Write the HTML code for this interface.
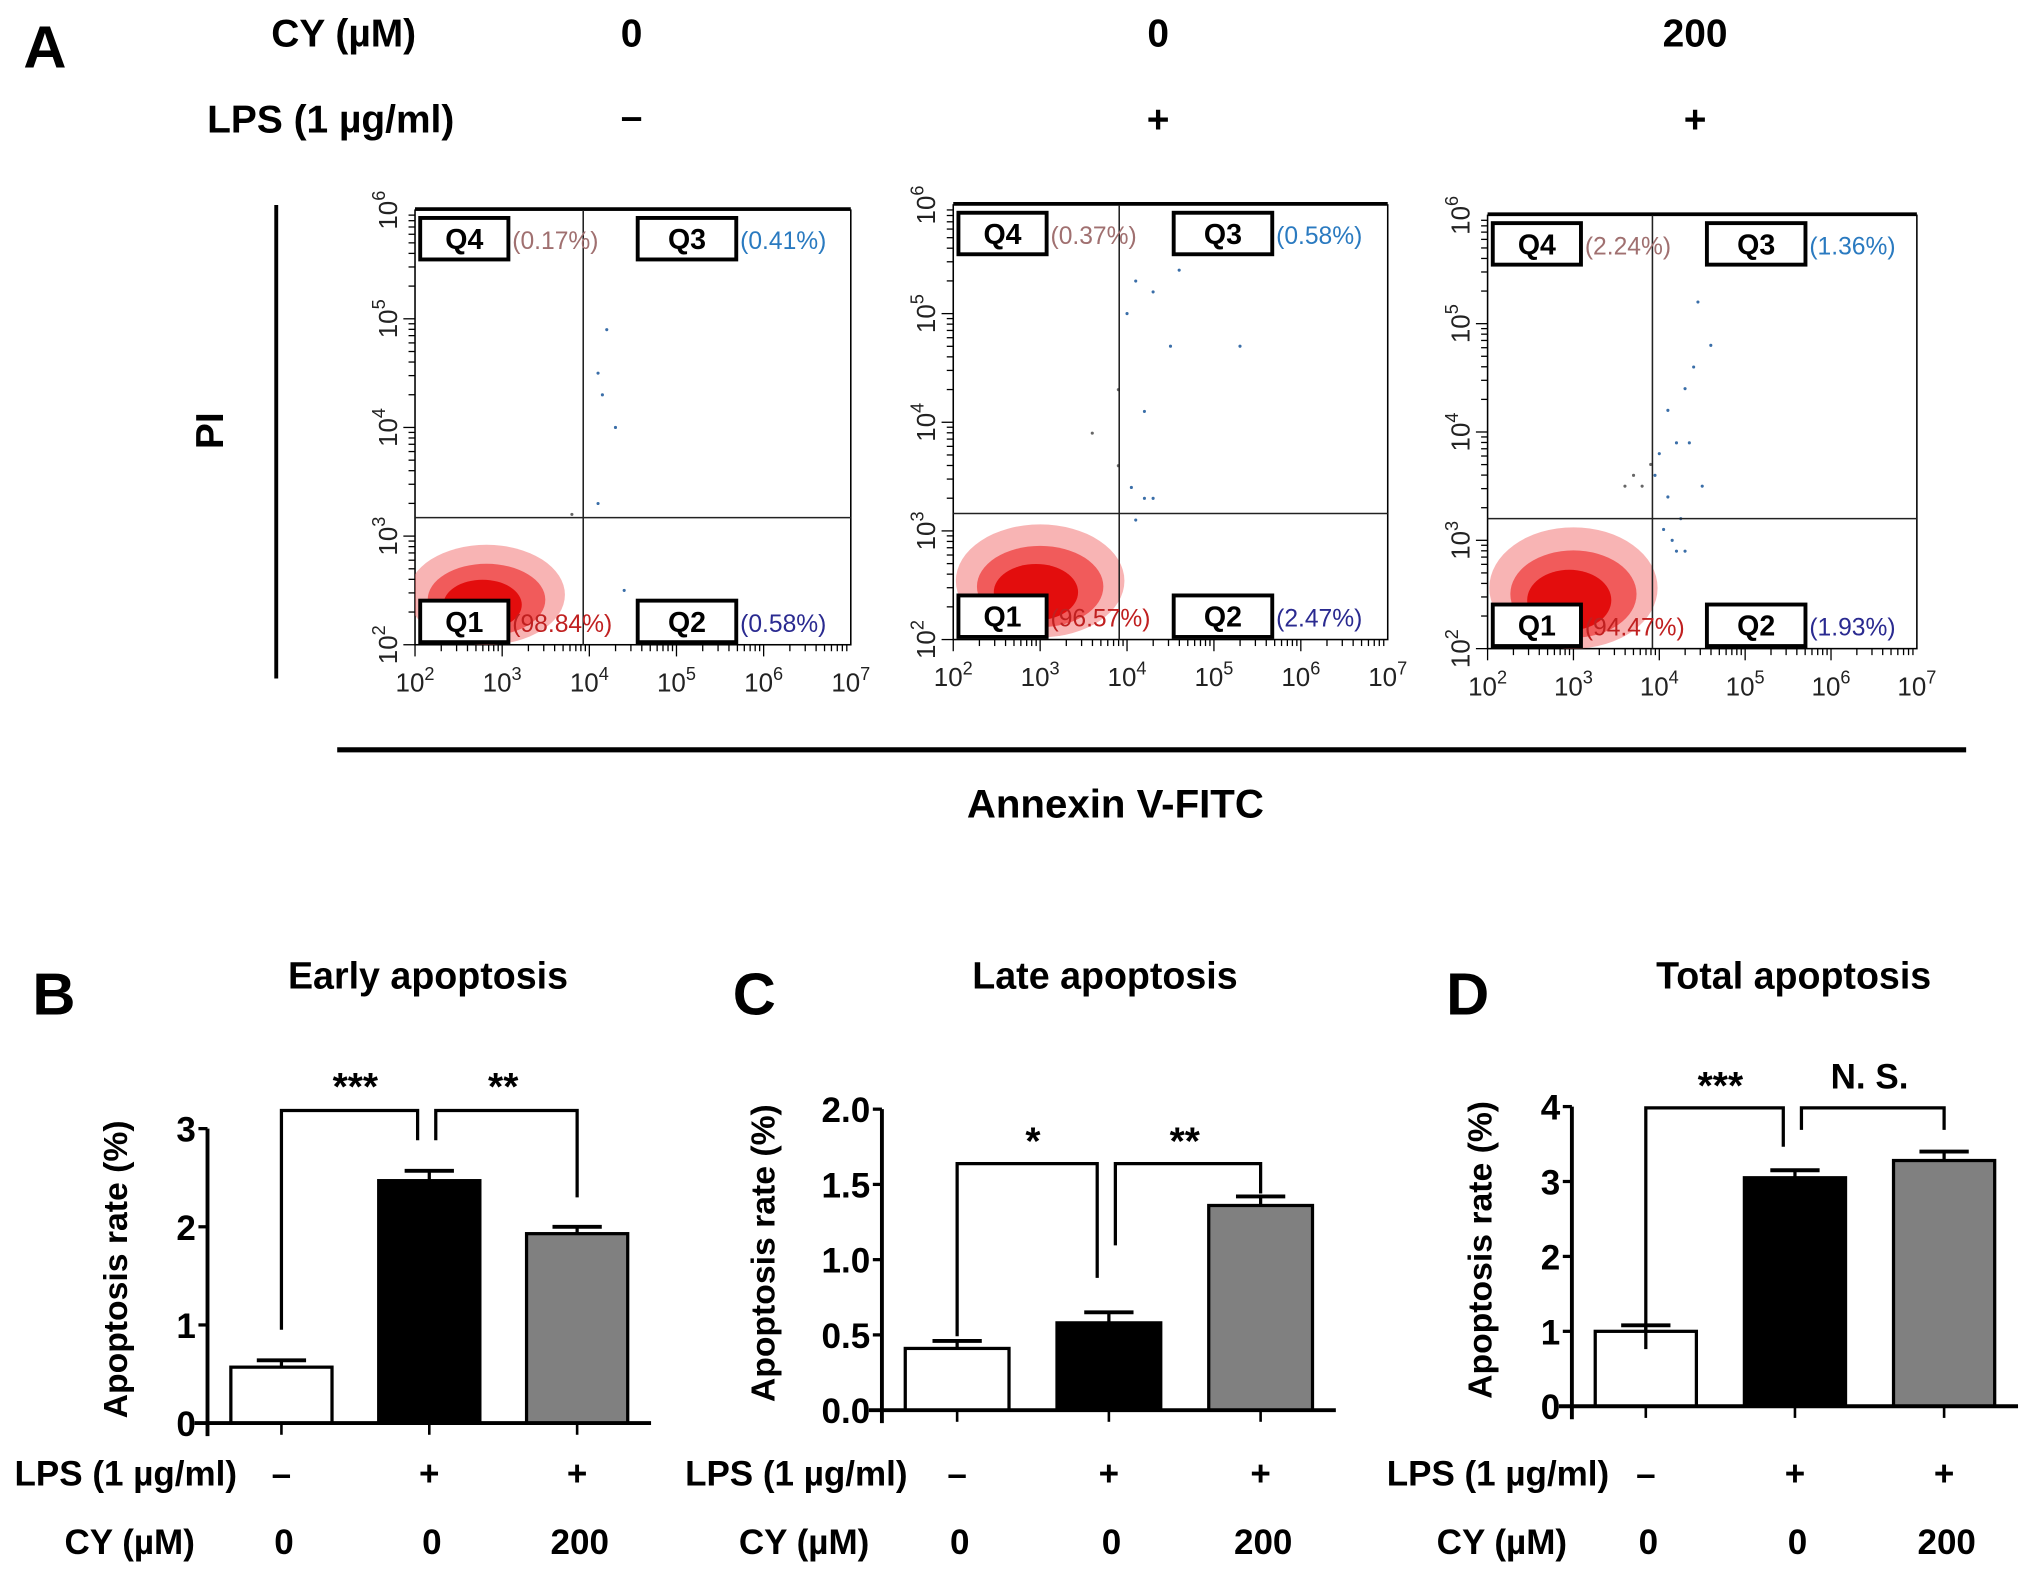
<!DOCTYPE html>
<html><head><meta charset="utf-8"><style>
html,body{margin:0;padding:0;background:#fff}
svg{display:block}
text{font-family:"Liberation Sans",Arial,sans-serif}
</style></head><body>
<svg id="fig" xmlns="http://www.w3.org/2000/svg" width="2031" height="1571" viewBox="0 0 1566 1211" preserveAspectRatio="none">
<g font-weight="bold">
<text x="18" y="52" font-size="46">A</text>
<text x="265" y="36" font-size="30" text-anchor="middle">CY (µM)</text>
<text x="487" y="36" font-size="30" text-anchor="middle">0</text>
<text x="893" y="36" font-size="30" text-anchor="middle">0</text>
<text x="1307" y="36" font-size="30" text-anchor="middle">200</text>
<text x="255" y="102" font-size="30" text-anchor="middle">LPS (1 µg/ml)</text>
<text x="487" y="100" font-size="30" text-anchor="middle">–</text>
<text x="893" y="102" font-size="30" text-anchor="middle">+</text>
<text x="1307" y="102" font-size="30" text-anchor="middle">+</text>
<line x1="213" y1="158" x2="213" y2="523" stroke="#000" stroke-width="3"/>
<text transform="translate(172,332) rotate(-90)" font-size="30" text-anchor="middle">PI</text>
<line x1="260" y1="578" x2="1516" y2="578" stroke="#000" stroke-width="4"/>
<text x="860" y="630" font-size="31" text-anchor="middle">Annexin V-FITC</text>
</g>
<g id="flow"></g>
<g id="bars"></g>
</svg>
<script>
const NS="http://www.w3.org/2000/svg";
function mk(parent,tag,attrs,txt){const e=document.createElementNS(NS,tag);for(const k in attrs)e.setAttribute(k,attrs[k]);if(txt!==undefined)e.textContent=txt;parent.appendChild(e);return e;}

// ---------- Flow cytometry data (log10 units) ----------
const flowGateX=[3.93,3.91,3.92];
const flowGateY=[3.17,3.16,3.20];
const flowQ1=["(98.84%)","(96.57%)","(94.47%)"];
const flowQ2=["(0.58%)","(2.47%)","(1.93%)"];
const flowQ3=["(0.41%)","(0.58%)","(1.36%)"];
const flowQ4=["(0.17%)","(0.37%)","(2.24%)"];
// population clouds: center x, center y, spread x, spread y (log10)
const cloudCX=[2.82,3.0,3.0];
const cloudCY=[2.46,2.54,2.56];
const cloudSX=[0.9,0.97,0.98];
const cloudSY=[0.46,0.52,0.56];
// sparse events (log10 x, log10 y)
const sparseX=[[4.1,4.15,4.2,4.3,4.1,3.8,4.4],[3.9,4.0,4.1,4.3,4.5,4.6,5.3,4.2,3.6,3.9,4.05,4.2,4.3,4.1],[3.7,3.9,4.0,4.1,4.2,4.3,4.4,4.45,3.8,4.6,4.5,4.35,4.25,4.1,3.95,3.6,4.2,4.3,4.15,4.05]];
const sparseY=[[4.5,4.3,4.9,4.0,3.3,3.2,2.5],[4.3,5.0,5.3,5.2,4.7,5.4,4.7,4.1,3.9,3.6,3.4,3.3,3.3,3.1],[3.6,3.7,3.8,4.2,3.9,4.4,4.6,5.2,3.5,4.8,3.5,3.9,3.2,3.4,3.6,3.5,2.9,2.9,3.0,3.1]];

const frames=[{x0:320,x1:656,y0:162,y1:497},{x0:735,x1:1070,y0:158,y1:493},{x0:1147,x1:1478,y0:166,y1:500}];

const flow=document.getElementById('flow');
frames.forEach((p,i)=>{
  const fx=v=>p.x0+(v-2)*(p.x1-p.x0)/5;
  const fy=v=>p.y1-(v-2)*(p.y1-p.y0)/4;
  const g=mk(flow,'g',{});
  
  
  const fr=mk(g,'rect',{x:p.x0,y:p.y0,width:p.x1-p.x0,height:p.y1-p.y0,fill:'#fff',stroke:'#000','stroke-width':1.2});
  
  
  mk(g,'line',{x1:p.x0,y1:p.y0-1,x2:p.x1,y2:p.y0-1,stroke:'#000','stroke-width':2.5});
  const cx=fx(cloudCX[i]),cy=fy(cloudCY[i]);
  const rx=cloudSX[i]*(p.x1-p.x0)/5, ry=cloudSY[i]*(p.y1-p.y0)/4;
  const clip='clip'+i;
  const cp=mk(g,'clipPath',{id:clip});
  mk(cp,'rect',{x:p.x0,y:p.y0,width:fx(flowGateX[i])-p.x0+6,height:p.y1-p.y0});
  const cg=mk(g,'g',{'clip-path':'url(#'+clip+')'});
  const c1=mk(cg,'ellipse',{cx:cx,cy:cy,rx:rx,ry:ry,fill:'#f26a6a','fill-opacity':0.5});
  
  
  mk(cg,'ellipse',{cx:cx,cy:cy+ry*0.1,rx:rx*0.75,ry:ry*0.72,fill:'#ec2020','fill-opacity':0.6});
  mk(cg,'ellipse',{cx:cx-rx*0.05,cy:cy+ry*0.2,rx:rx*0.5,ry:ry*0.5,fill:'#e00000','fill-opacity':0.85});
  sparseX[i].forEach((sx,j)=>{
    const d=mk(g,'circle',{cx:fx(sx),cy:fy(sparseY[i][j]),r:1.2,fill:sx>flowGateX[i]?'#3a6ea8':'#666'});
    
    
  });
  const gv=mk(g,'line',{x1:fx(flowGateX[i]),y1:p.y0,x2:fx(flowGateX[i]),y2:p.y1,stroke:'#222','stroke-width':1.2});
  
  
  const gh=mk(g,'line',{x1:p.x0,y1:fy(flowGateY[i]),x2:p.x1,y2:fy(flowGateY[i]),stroke:'#222','stroke-width':1.2});
  
  
  for(let d=2;d<7;d++){for(let m=1;m<10;m++){const v=d+Math.log10(m);const x=fx(v);mk(g,'line',{x1:x,y1:p.y1,x2:x,y2:p.y1+(m===1?9:5),stroke:'#000','stroke-width':1});}}
  for(let d=2;d<6;d++){for(let m=1;m<10;m++){const v=d+Math.log10(m);const y=fy(v);mk(g,'line',{x1:p.x0,y1:y,x2:p.x0-(m===1?9:5),y2:y,stroke:'#000','stroke-width':1});}}
  for(let d=2;d<=7;d++){
    const t=mk(g,'text',{x:fx(d),y:p.y1+36,'font-size':20,'text-anchor':'middle',fill:'#222','font-family':'Liberation Serif, serif'});
    
    
    mk(t,'tspan',{},'10');mk(t,'tspan',{dy:-9,'font-size':14},String(d));
  }
  for(let d=2;d<=6;d++){
    const t=mk(g,'text',{transform:'translate('+(p.x0-14)+','+fy(d)+') rotate(-90)','font-size':20,'text-anchor':'middle',fill:'#222','font-family':'Liberation Serif, serif'});
    
    
    mk(t,'tspan',{},'10');mk(t,'tspan',{dy:-9,'font-size':14},String(d));
  }
  const boxes=[['Q4',p.x0+4,p.y0+6,flowQ4[i],'#a07070'],['Q3',fx(flowGateX[i])+42,p.y0+6,flowQ3[i],'#2a7ac0'],['Q1',p.x0+4,p.y1-34,flowQ1[i],'#c02020'],['Q2',fx(flowGateX[i])+42,p.y1-34,flowQ2[i],'#2a2a90']];
  boxes.forEach(b=>{
    const w=b[0]==='Q1'||b[0]==='Q4'?68:76;
    const r=mk(g,'rect',{x:b[1],y:b[2],width:w,height:32,fill:'#fff',stroke:'#000','stroke-width':3});
    
    
    const t=mk(g,'text',{x:b[1]+w/2,y:b[2]+24,'font-size':22,'font-weight':'bold','text-anchor':'middle','font-family':'Liberation Serif, serif'},b[0]);
    
    
    const pt=mk(g,'text',{x:b[1]+w+3,y:b[2]+24,'font-size':19,fill:b[4]},b[3]);
    
    
  });
});

// ---------- Bar chart data ----------
const barTitles=["Early apoptosis","Late apoptosis","Total apoptosis"];
const barLetters=["B","C","D"];
const barValuesB=[0.57,2.47,1.93];
const barErrorsB=[0.07,0.10,0.07];
const barValuesC=[0.41,0.58,1.36];
const barErrorsC=[0.05,0.07,0.06];
const barValuesD=[1.00,3.05,3.28];
const barErrorsD=[0.08,0.10,0.12];
const tickLabelsB=["0","1","2","3"];
const tickLabelsC=["0.0","0.5","1.0","1.5","2.0"];
const tickLabelsD=["0","1","2","3","4"];
const lpsLabels=["–","+","+"];
const cyLabels=["0","0","200"];
const sigLeft=["***","*","***"];
const sigRight=["**","**","N. S."];

const panels=[
 {vals:barValuesB,errs:barErrorsB,ticks:tickLabelsB,max:3,step:1,ax:160,y0:1097,ytop:870,bx:[178,292,406],bw:78,letterX:25,titleX:330,ylabX:98,lpsLX:97,cyLX:100,brY:856,leftDrop:[1025,879],rightDrop:[879,923],labY:[848,848]},
 {vals:barValuesC,errs:barErrorsC,ticks:tickLabelsC,max:2,step:0.5,ax:680,y0:1087,ytop:855,bx:[698,815,932],bw:80,letterX:565,titleX:852,ylabX:597,lpsLX:614,cyLX:620,brY:897,leftDrop:[1030,985],rightDrop:[960,920],labY:[890,890]},
 {vals:barValuesD,errs:barErrorsD,ticks:tickLabelsD,max:4,step:1,ax:1212,y0:1084,ytop:853,bx:[1230,1345,1460],bw:78,letterX:1115,titleX:1383,ylabX:1150,lpsLX:1155,cyLX:1158,brY:854,leftDrop:[1040,884],rightDrop:[871,871],labY:[847,839]}
];
const fills=['#fff','#000','#808080'];
const bars=document.getElementById('bars');
panels.forEach((P,i)=>{
  const g=mk(bars,'g',{'font-weight':'bold'});
  
  
  const sy=v=>P.y0-v*(P.y0-P.ytop)/P.max;
  const centers=P.bx.map(x=>x+P.bw/2);
  const L=mk(g,'text',{x:P.letterX,y:782,'font-size':46},barLetters[i]);
  
  
  const T=mk(g,'text',{x:P.titleX,y:762,'font-size':29,'text-anchor':'middle'},barTitles[i]);
  
  
  const YL=mk(g,'text',{transform:'translate('+P.ylabX+','+((P.y0+P.ytop)/2-5)+') rotate(-90)','font-size':26,'text-anchor':'middle'},'Apoptosis rate (%)');
  
  
  P.vals.forEach((v,j)=>{
    const r=mk(g,'rect',{x:P.bx[j],y:sy(v),width:P.bw,height:P.y0-sy(v),fill:fills[j],stroke:'#000','stroke-width':2.5});
    
    
    const ey=sy(v+P.errs[j]);
    const e1=mk(g,'line',{x1:centers[j],y1:sy(v),x2:centers[j],y2:ey,stroke:'#000','stroke-width':2.5});
    
    
    mk(g,'line',{x1:centers[j]-19,y1:ey,x2:centers[j]+19,y2:ey,stroke:'#000','stroke-width':3});
  });
  const xa=mk(g,'line',{x1:P.ax-10,y1:P.y0,x2:P.bx[2]+P.bw+18,y2:P.y0,stroke:'#000','stroke-width':3});
  
  
  const ya=mk(g,'line',{x1:P.ax,y1:P.ytop,x2:P.ax,y2:P.y0+10,stroke:'#000','stroke-width':3});
  
  
  P.ticks.forEach((t,k)=>{
    const y=sy(k*P.step);
    mk(g,'line',{x1:P.ax-7,y1:y,x2:P.ax,y2:y,stroke:'#000','stroke-width':2.5});
    const tt=mk(g,'text',{x:P.ax-9,y:y+10,'font-size':27,'text-anchor':'end'},t);
    
    
  });
  centers.forEach(c=>mk(g,'line',{x1:c,y1:P.y0,x2:c,y2:P.y0+9,stroke:'#000','stroke-width':2}));
  const bl=mk(g,'path',{d:'M'+(centers[0])+','+P.leftDrop[0]+' V'+P.brY+' H'+(centers[1]-9)+' V'+P.leftDrop[1],fill:'none',stroke:'#000','stroke-width':2.5});
  
  
  const br=mk(g,'path',{d:'M'+(centers[1]+5)+','+P.rightDrop[0]+' V'+P.brY+' H'+(centers[2])+' V'+P.rightDrop[1],fill:'none',stroke:'#000','stroke-width':2.5});
  
  
  const s1=mk(g,'text',{x:(centers[0]+centers[1])/2,y:P.labY[0],'font-size':30,'text-anchor':'middle'},sigLeft[i]);
  
  
  const s2=mk(g,'text',{x:(centers[1]+centers[2])/2,y:P.labY[1],'font-size':sigRight[i]==='N. S.'?27:30,'text-anchor':'middle'},sigRight[i]);
  
  
  const lp=mk(g,'text',{x:P.lpsLX,y:1145,'font-size':27,'text-anchor':'middle'},'LPS (1 µg/ml)');
  
  
  const cy=mk(g,'text',{x:P.cyLX,y:1198,'font-size':27,'text-anchor':'middle'},'CY (µM)');
  
  
  centers.forEach((c,j)=>{
    const a=mk(g,'text',{x:c,y:1145,'font-size':27,'text-anchor':'middle'},lpsLabels[j]);
    
    
    const b=mk(g,'text',{x:c+2,y:1198,'font-size':27,'text-anchor':'middle'},cyLabels[j]);
    
    
  });
});
</script>
</body></html>
